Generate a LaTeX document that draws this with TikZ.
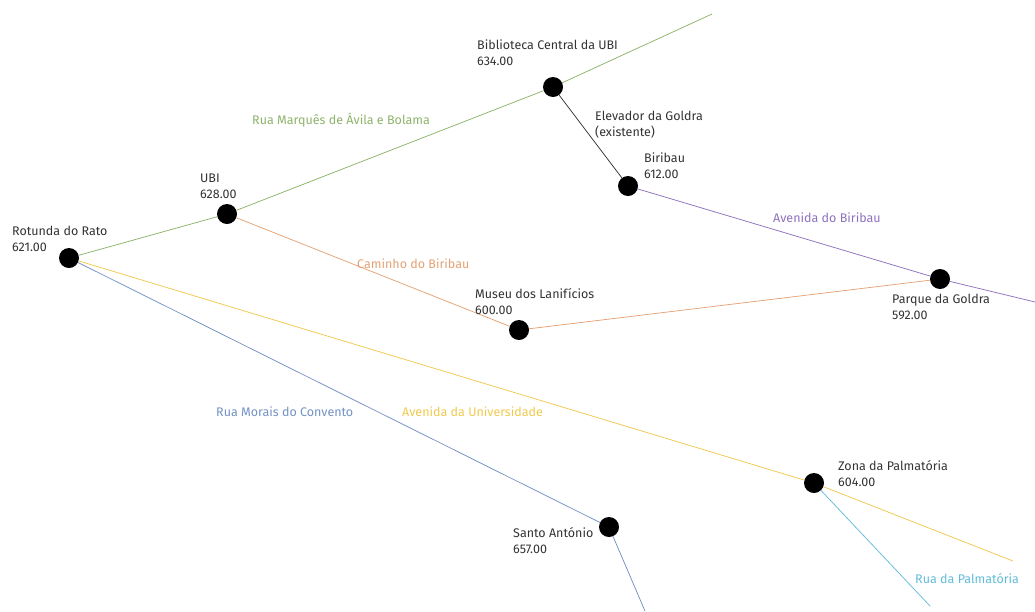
\documentclass[tikz,border=0pt]{standalone}
\usepackage{fontspec}
\setmainfont{Fira Sans}
\definecolor{cgreen}{HTML}{8DB36B}
\definecolor{corange}{HTML}{E3A275}
\definecolor{cpurple}{HTML}{8E72BE}
\definecolor{cblue}{HTML}{7392C4}
\definecolor{cyellow}{HTML}{F0C94E}
\definecolor{ccyan}{HTML}{62BCD8}
\definecolor{ctext}{HTML}{333333}
\tikzset{
  stop/.style={circle,fill=black,minimum size=20pt,inner sep=0pt},
  road/.style={line width=0.75pt},
  lbl/.style={anchor=base west,inner sep=0pt,align=left,text=ctext,font=\fontsize{12.5}{16}\selectfont},
  rlbl/.style={anchor=base west,inner sep=0pt,font=\fontsize{12.5}{16}\selectfont},
}
\begin{document}
\begin{tikzpicture}[x=1pt,y=-1pt]
\useasboundingbox (0,0) rectangle (1035,611);
% stops
\node[stop] (rato) at (69,258) {};
\node[stop] (ubi) at (227,214) {};
\node[stop] (bib) at (553,87) {};
\node[stop] (biri) at (628,186) {};
\node[stop] (parq) at (940,279) {};
\node[stop] (mus) at (519,330) {};
\node[stop] (zona) at (814,483) {};
\node[stop] (santo) at (609,527) {};
% free ends
\coordinate (gend) at (712,14);
\coordinate (pend) at (1035,302);
\coordinate (yend) at (1013,561);
\coordinate (bend) at (645,611);
\coordinate (cend) at (930,606);
% roads
\draw[road,cgreen] (rato) -- (ubi) -- (bib) -- (gend);
\draw[road,black!80] (bib) -- (biri);
\draw[road,cpurple] (biri) -- (parq) -- (pend);
\draw[road,corange] (ubi) -- (mus) -- (parq);
\draw[road,cyellow] (rato) -- (zona) -- (yend);
\draw[road,cblue] (rato) -- (santo) -- (bend);
\draw[road,ccyan] (zona) -- (cend);
% stop labels (anchor = baseline of the last line)
\node[lbl] (lrato) at (12,251) {Rotunda do Rato\\621.00};
\node[lbl] (lubi) at (200,198) {UBI\\628.00};
\node[lbl] (lbib) at (477,65) {Biblioteca Central da UBI\\634.00};
\node[lbl] (lelev) at (595,136) {Elevador da Goldra\\(existente)};
\node[lbl] (lbiri) at (644,178) {Biribau\\612.00};
\node[lbl] (lparq) at (892,319) {Parque da Goldra\\592.00};
\node[lbl] (lmus) at (475,314) {Museu dos Lanifícios\\600.00};
\node[lbl] (lzona) at (838,486) {Zona da Palmatória\\604.00};
\node[lbl] (lsanto) at (513,553) {Santo António\\657.00};
% road labels
\node[rlbl,text=cgreen] (rmarq) at (252,124) {Rua Marquês de Ávila e Bolama};
\node[rlbl,text=corange] (rcam) at (357,268) {Caminho do Biribau};
\node[rlbl,text=cpurple] (ravb) at (773,222) {Avenida do Biribau};
\node[rlbl,text=cblue] (rmor) at (216,416) {Rua Morais do Convento};
\node[rlbl,text=cyellow] (runi) at (402,416) {Avenida da Universidade};
\node[rlbl,text=ccyan] (rpal) at (915,583) {Rua da Palmatória};
\end{tikzpicture}
\end{document}
